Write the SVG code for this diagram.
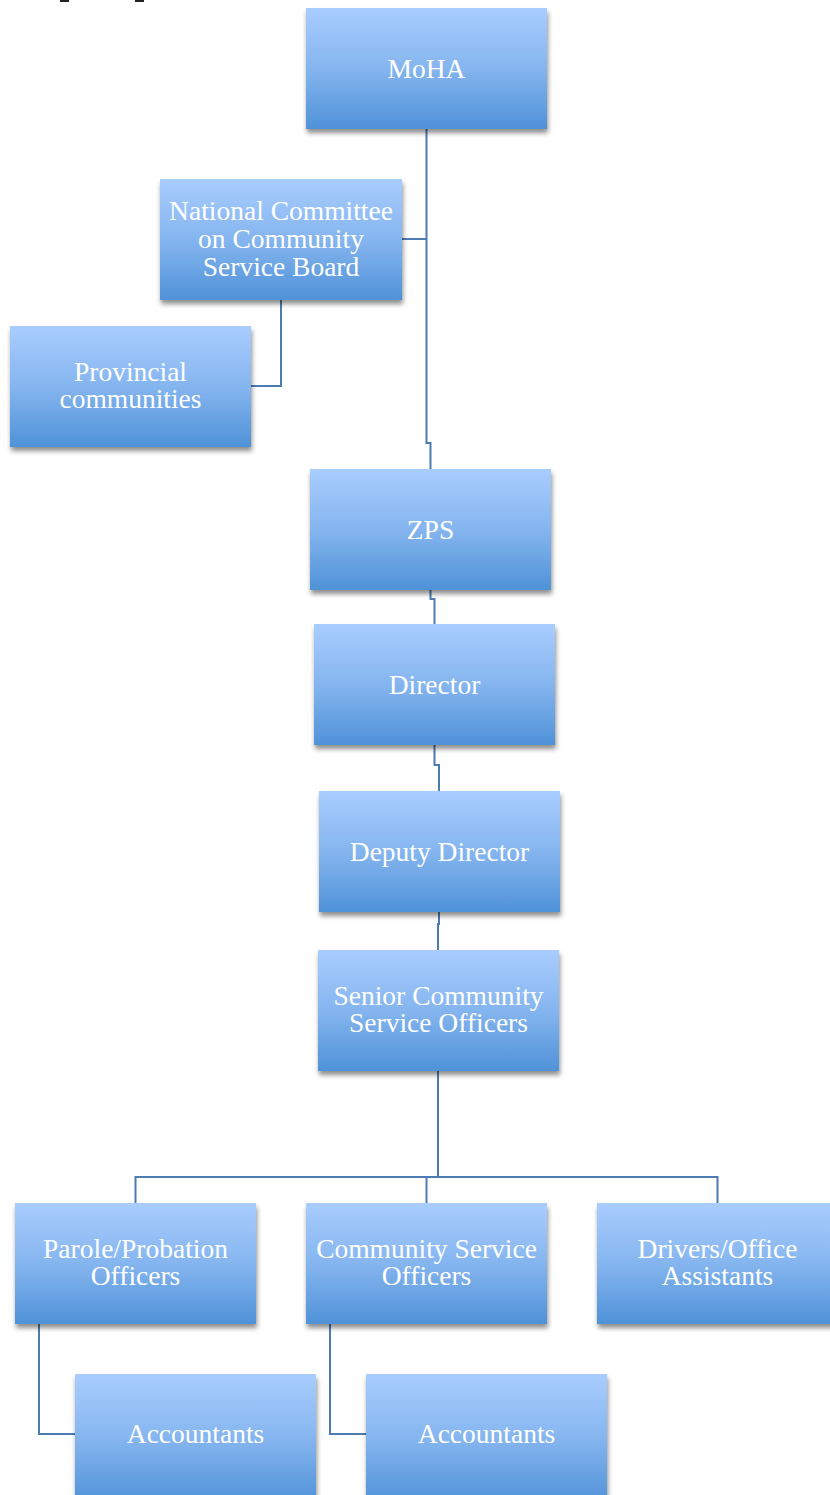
<svg xmlns="http://www.w3.org/2000/svg" width="830" height="1495" viewBox="0 0 830 1495">
<style>
.box{fill:url(#g);filter:url(#sh)}
.t{font-family:"Liberation Serif","DejaVu Serif",serif;font-size:27.5px;fill:#ffffff;text-anchor:middle}
.c{fill:none;stroke:#4d7cb3;stroke-width:2}
</style>
<defs>
<linearGradient id="g" x1="0" y1="0" x2="0" y2="1">
<stop offset="0" stop-color="#a9cdfe"/>
<stop offset="0.5" stop-color="#85b5ef"/>
<stop offset="1" stop-color="#4f92d8"/>
</linearGradient>
<filter id="sh" x="-10%" y="-10%" width="125%" height="130%">
<feGaussianBlur in="SourceAlpha" stdDeviation="2.5"/>
<feOffset dx="1" dy="4" result="b"/>
<feComponentTransfer><feFuncA type="linear" slope="0.45"/></feComponentTransfer>
<feMerge><feMergeNode/><feMergeNode in="SourceGraphic"/></feMerge>
</filter>
</defs>
<rect width="830" height="1495" fill="#ffffff"/>
<rect x="60" y="0" width="9" height="2" fill="#222"/>
<rect x="135" y="0" width="9" height="2" fill="#222"/>
<g id="connectors">
<path class="c" d="M426.5,129 V443 H430.5 V469"/>
<path class="c" d="M402,239 H426.5"/>
<path class="c" d="M281,300 V386 H251"/>
<path class="c" d="M430.5,590 V599 H434.5 V624"/>
<path class="c" d="M434.5,745 V765 H439 V791"/>
<path class="c" d="M439,912 V924 H438 V950"/>
<path class="c" d="M438,1071 V1177"/>
<path class="c" d="M135.5,1203 V1177 H717.5 V1203"/>
<path class="c" d="M426.5,1177 V1203"/>
<path class="c" d="M39,1324 V1434 H75"/>
<path class="c" d="M330,1324 V1434 H366"/>
</g>
<g id="moha"><rect class="box" x="306" y="8" width="241" height="121"/><text class="t" x="426.5" y="78">MoHA</text></g>
<g id="national"><rect class="box" x="160" y="179" width="242" height="121"/><text class="t" x="281" y="220">National Committee</text><text class="t" x="281" y="248">on Community</text><text class="t" x="281" y="276">Service Board</text></g>
<g id="provincial"><rect class="box" x="10" y="326" width="241" height="121"/><text class="t" x="130.5" y="381">Provincial</text><text class="t" x="130.5" y="408">communities</text></g>
<g id="zps"><rect class="box" x="310" y="469" width="241" height="121"/><text class="t" x="430.5" y="539">ZPS</text></g>
<g id="director"><rect class="box" x="314" y="624" width="241" height="121"/><text class="t" x="434.5" y="694">Director</text></g>
<g id="deputy"><rect class="box" x="319" y="791" width="241" height="121"/><text class="t" x="439.5" y="861">Deputy Director</text></g>
<g id="senior"><rect class="box" x="318" y="950" width="241" height="121"/><text class="t" x="438.5" y="1005">Senior Community</text><text class="t" x="438.5" y="1032">Service Officers</text></g>
<g id="parole"><rect class="box" x="15" y="1203" width="241" height="121"/><text class="t" x="135.5" y="1258">Parole/Probation</text><text class="t" x="135.5" y="1285">Officers</text></g>
<g id="cso"><rect class="box" x="306" y="1203" width="241" height="121"/><text class="t" x="426.5" y="1258">Community Service</text><text class="t" x="426.5" y="1285">Officers</text></g>
<g id="drivers"><rect class="box" x="597" y="1203" width="241" height="121"/><text class="t" x="717.5" y="1258">Drivers/Office</text><text class="t" x="717.5" y="1285">Assistants</text></g>
<g id="acc1"><rect class="box" x="75" y="1374" width="241" height="130"/><text class="t" x="195.5" y="1443">Accountants</text></g>
<g id="acc2"><rect class="box" x="366" y="1374" width="241" height="130"/><text class="t" x="486.5" y="1443">Accountants</text></g>
</svg>
